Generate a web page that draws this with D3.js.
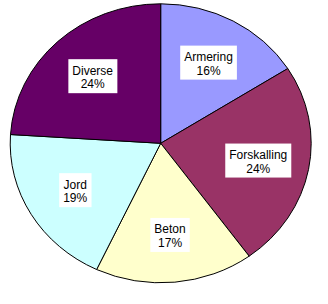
<!DOCTYPE html>
<html>
<head>
<meta charset="utf-8">
<script src="https://cdn.jsdelivr.net/npm/d3@7"></script>
<style>
html,body{margin:0;padding:0;background:#fff;}
svg{display:block;}
</style>
</head>
<body>
<svg id="chart" width="328" height="304"></svg>
<script>
const categories = ["Armering", "Forskalling", "Beton", "Jord", "Diverse"];
const values = [16, 24, 17, 19, 24];
const colors = ["#9999FF", "#993366", "#FFFFCC", "#CCFFFF", "#660066"];

const W = 328, H = 304;
const cx = 160.7, cy = 143.3, rx = 150.5, ry = 139.5;
const ky = ry / rx;

const svg = d3.select("#chart");
const data = categories.map((c, i) => ({ name: c, value: values[i], color: colors[i] }));
const total = d3.sum(values);

const pie = d3.pie().value(d => d.value).sort(null).startAngle(0).endAngle(2 * Math.PI);
const arcs = pie(data);
const arc = d3.arc().innerRadius(0).outerRadius(rx);

const g = svg.append("g").attr("transform", `translate(${cx},${cy}) scale(1,${ky})`);
g.selectAll("path").data(arcs).join("path")
  .attr("d", arc)
  .attr("fill", d => d.data.color)
  .attr("stroke", "#000")
  .attr("stroke-width", 1)
  .attr("vector-effect", "non-scaling-stroke");

const labelArc = d3.arc().innerRadius(rx * 0.66).outerRadius(rx * 0.66);
const fmt = v => Math.round(v / total * 100) + "%";
const lineH = 13.5;

arcs.forEach(a => {
  const [x, y0] = labelArc.centroid(a);
  const px = cx + x, py = cy + y0 * ky;
  const lg = svg.append("g");
  const rect = lg.append("rect").attr("fill", "#fff");
  const t = lg.append("text")
    .attr("font-family", "'Liberation Sans', Arial, sans-serif")
    .attr("font-size", 12)
    .attr("fill", "#000")
    .attr("text-anchor", "middle");
  t.append("tspan").attr("x", px).attr("y", py - 1.5).text(a.data.name);
  t.append("tspan").attr("x", px).attr("y", py - 1.5 + lineH).text(fmt(a.data.value));
  const bb = t.node().getBBox();
  rect.attr("x", bb.x - 4).attr("y", py - 17).attr("width", bb.width + 8).attr("height", 34);
});
</script>
</body>
</html>
